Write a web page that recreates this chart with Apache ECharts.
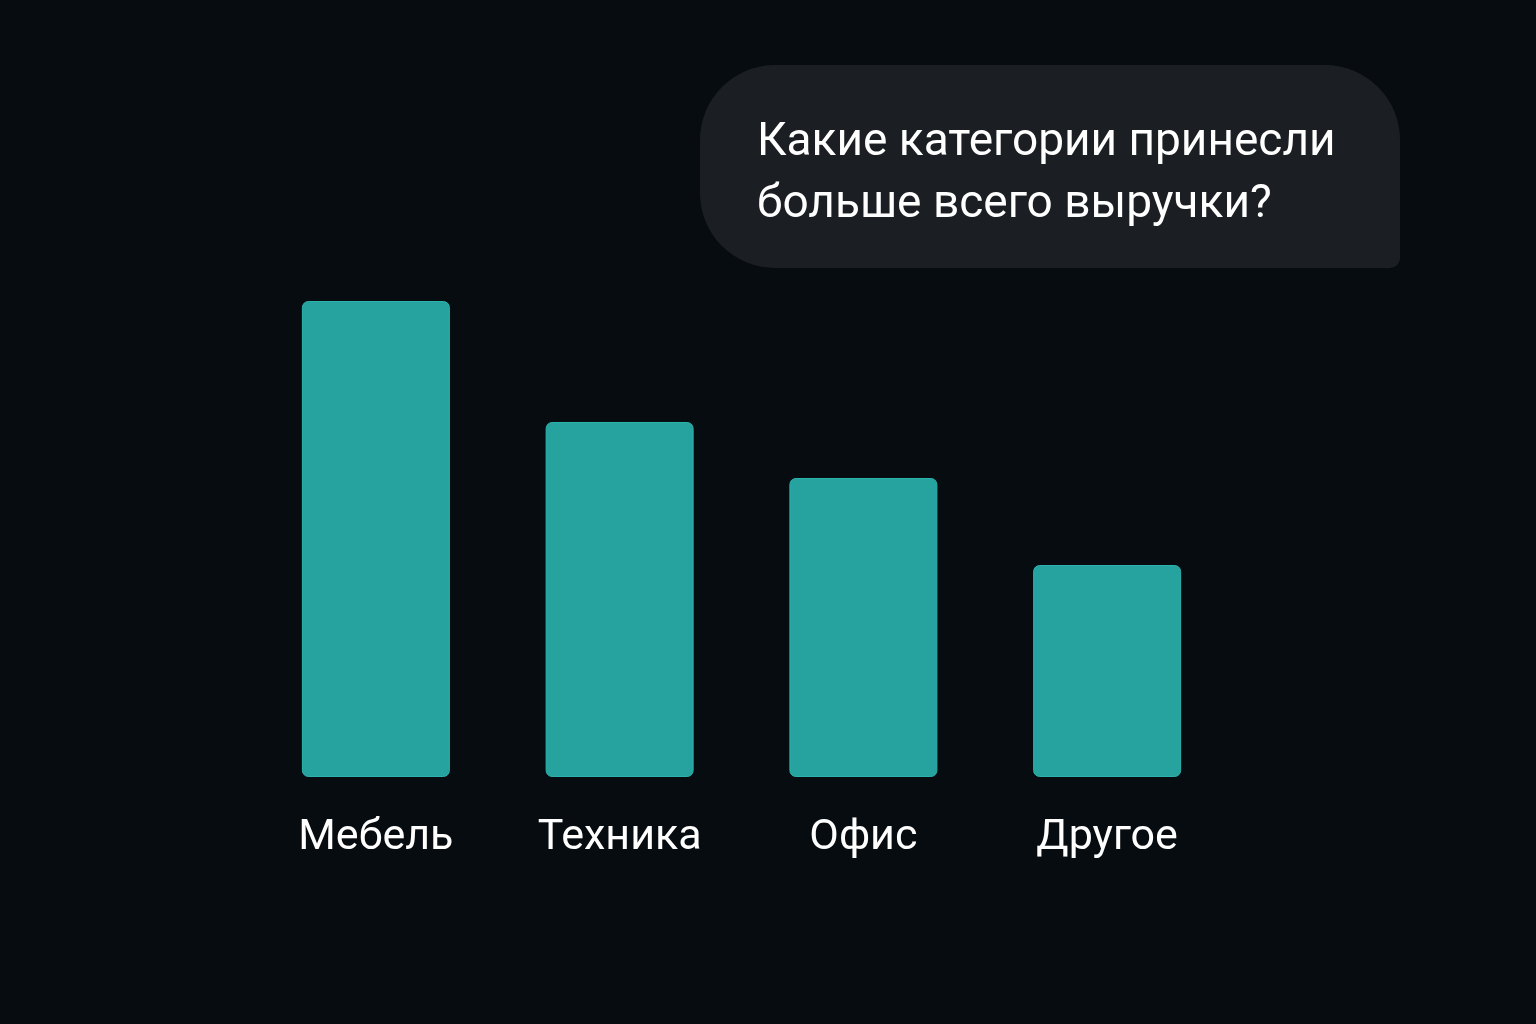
<!DOCTYPE html>
<html><head><meta charset="utf-8">
<style>html,body{margin:0;padding:0;background:#070c10;}#c{width:1536px;height:1024px;}</style>
<script src="https://cdn.jsdelivr.net/npm/echarts@6/dist/echarts.min.js"></script>
</head><body><div id="c"></div>
<script>
const categories = ['Мебель', 'Техника', 'Офис', 'Другое'];
const revenue = [4.76, 3.55, 2.99, 2.12];
const questionLines = ['Какие категории принесли', 'больше всего выручки?'];

const chart = echarts.init(document.getElementById('c'));
chart.setOption({
  backgroundColor: '#070c10',
  animation: false,
  grid: { left: 254, right: 307, top: 277, bottom: 247 },
  xAxis: {
    type: 'category', data: categories,
    axisLine: { show: false }, axisTick: { show: false },
    axisLabel: { color: '#ffffff', fontSize: 43, fontFamily: 'Roboto', margin: 40 }
  },
  yAxis: { type: 'value', min: 0, max: 5, show: false, splitLine: { show: false } },
  series: [{
    type: 'bar', data: revenue, barWidth: 148,
    itemStyle: { color: '#26a29f', borderRadius: 6, borderColor: '#2bb3ae', borderWidth: 1 }
  }],
  graphic: [
    { type: 'rect', shape: { x: 700, y: 65, width: 700, height: 203, r: [75, 75, 10, 75] },
      style: { fill: '#1b1f23' }, z: 10 },
    { type: 'text', left: 757, top: 112, z: 11,
      style: { text: questionLines.join('\n'), fill: '#ffffff', font: '46px Roboto', lineHeight: 62 } }
  ]
});
</script></body></html>
